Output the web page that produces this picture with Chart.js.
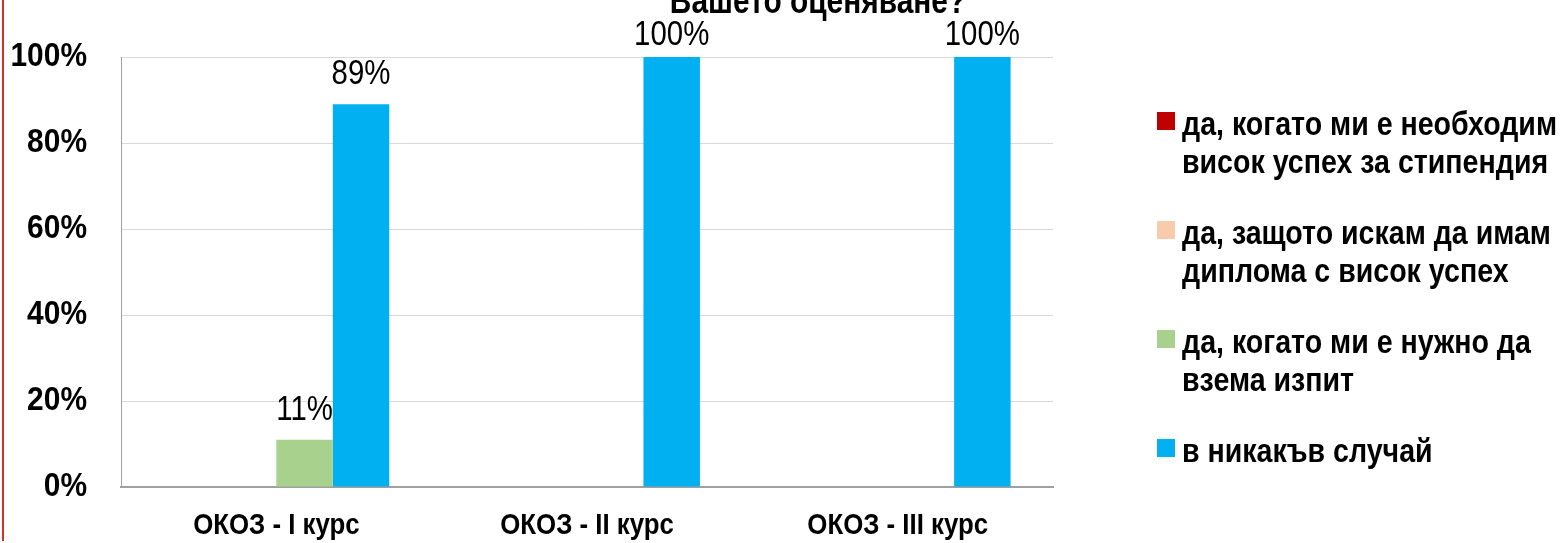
<!DOCTYPE html>
<html>
<head>
<meta charset="utf-8">
<script src="https://cdn.jsdelivr.net/npm/chart.js@4/dist/chart.umd.min.js"></script>
<style>
  html, body { margin:0; padding:0; background:#fff; }
  body { width:1562px; height:543px; position:relative; overflow:hidden;
         font-family:'Liberation Sans',Arial,sans-serif; }
  #chart { position:absolute; left:0; top:0; }
  .slide-edge { position:absolute; left:2px; top:0; width:2px; height:541px; background:#d5322e; }
  .title { position:absolute; left:518px; width:600px; top:-17px; text-align:center;
           font-weight:bold; font-size:36px; line-height:36px; color:#000; white-space:nowrap;
           transform:scaleX(0.83); }
  #legend { position:absolute; left:1157px; top:104px; width:405px; }
  .item { display:flex; align-items:flex-start; margin-bottom:33px; }
  .box { width:18px; height:18px; margin-top:8px; margin-right:7px; flex:none; }
  .txt { width:450px; font-weight:bold; font-size:34px; line-height:38px; color:#000;
         transform:scaleX(0.84); transform-origin:0 0; flex:none; }
</style>
</head>
<body>
<div class="slide-edge"></div>
<canvas id="chart" width="1562" height="543"></canvas>
<div class="title">Вашето оценяване?</div>
<div id="legend"></div>
<script>
// Data
const categories = ['ОКОЗ - I курс', 'ОКОЗ - II курс', 'ОКОЗ - III курс'];
const seriesNames = [
    'да, когато ми е необходим висок успех за стипендия',
    'да, защото искам да имам диплома с висок успех',
    'да, когато ми е нужно да взема изпит',
    'в никакъв случай'
];
const scholarship = [0, 0, 0];
const diploma = [0, 0, 0];
const exam = [11, 0, 0];
const never = [89, 100, 100];
const yTickLabels = ['0%', '20%', '40%', '60%', '80%', '100%'];

const colors = ['#c00000', '#f8cbad', '#a9d18e', '#00b0f0'];
const fontFamily = "'Liberation Sans',Arial,sans-serif";

// squeeze text horizontally so it looks like Arial Narrow
function narrowText(ctx, text, x, y, k) {
    ctx.save();
    ctx.translate(x, y);
    ctx.scale(k, 1);
    ctx.fillText(text, 0, 0);
    ctx.restore();
}

// Axis labels drawn at the scale's tick positions
const axisLabels = {
    id: 'axisLabels',
    afterDraw(chart) {
        const ctx = chart.ctx;
        const ys = chart.scales.y, xs = chart.scales.x;
        ctx.save();
        ctx.fillStyle = '#000';
        ctx.textBaseline = 'middle';
        ctx.font = 'bold 34px ' + fontFamily;
        ctx.textAlign = 'right';
        ys.ticks.forEach((t, i) => narrowText(ctx, yTickLabels[i], ys.right - 34, ys.getPixelForTick(i), 0.88));
        ctx.font = 'bold 30px ' + fontFamily;
        ctx.textAlign = 'center';
        xs.ticks.forEach((t, i) => narrowText(ctx, categories[i], xs.getPixelForTick(i), xs.top + 39, 0.86));
        ctx.restore();
    }
};

// Value labels above bars
const valueLabels = {
    id: 'valueLabels',
    afterDatasetsDraw(chart) {
        const ctx = chart.ctx;
        ctx.save();
        ctx.font = '35px ' + fontFamily;
        ctx.fillStyle = '#000';
        ctx.textAlign = 'center';
        ctx.textBaseline = 'alphabetic';
        chart.data.datasets.forEach((ds, i) => {
            const meta = chart.getDatasetMeta(i);
            meta.data.forEach((bar, j) => {
                const v = ds.data[j];
                if (!v) return;
                const y = Math.max(bar.y - 20, chart.chartArea.top - 12);
                narrowText(ctx, v + '%', bar.x, y, 0.84);
            });
        });
        ctx.restore();
    }
};

const ctx = document.getElementById('chart').getContext('2d');
const chart = new Chart(ctx, {
    type: 'bar',
    data: {
        labels: categories,
        datasets: [scholarship, diploma, exam, never].map((d, i) => ({
            label: seriesNames[i],
            data: d,
            backgroundColor: colors[i],
            borderWidth: 0
        }))
    },
    options: {
        responsive: false,
        animation: false,
        categoryPercentage: 0.727,
        barPercentage: 1,
        layout: { padding: { top: 57, right: 509, bottom: 0, left: 0 } },
        plugins: {
            legend: { display: false },
            tooltip: { enabled: false },
            title: { display: false }
        },
        scales: {
            y: {
                min: 0, max: 100,
                ticks: { stepSize: 20, display: false },
                grid: { color: '#d9d9d9', drawTicks: false },
                border: { color: '#a0a0a0', width: 1 },
                afterFit: s => { s.width = 121; }
            },
            x: {
                ticks: { display: false },
                grid: { display: false, drawTicks: false },
                border: { color: '#a0a0a0', width: 2 },
                afterFit: s => { s.height = 56; }
            }
        }
    },
    plugins: [valueLabels, axisLabels]
});

// HTML legend
const legendEl = document.getElementById('legend');
chart.data.datasets.forEach(ds => {
    const item = document.createElement('div');
    item.className = 'item';
    item.innerHTML = `<div class="box" style="background:${ds.backgroundColor}"></div><div class="txt">${ds.label}</div>`;
    legendEl.appendChild(item);
});
</script>
</body>
</html>
